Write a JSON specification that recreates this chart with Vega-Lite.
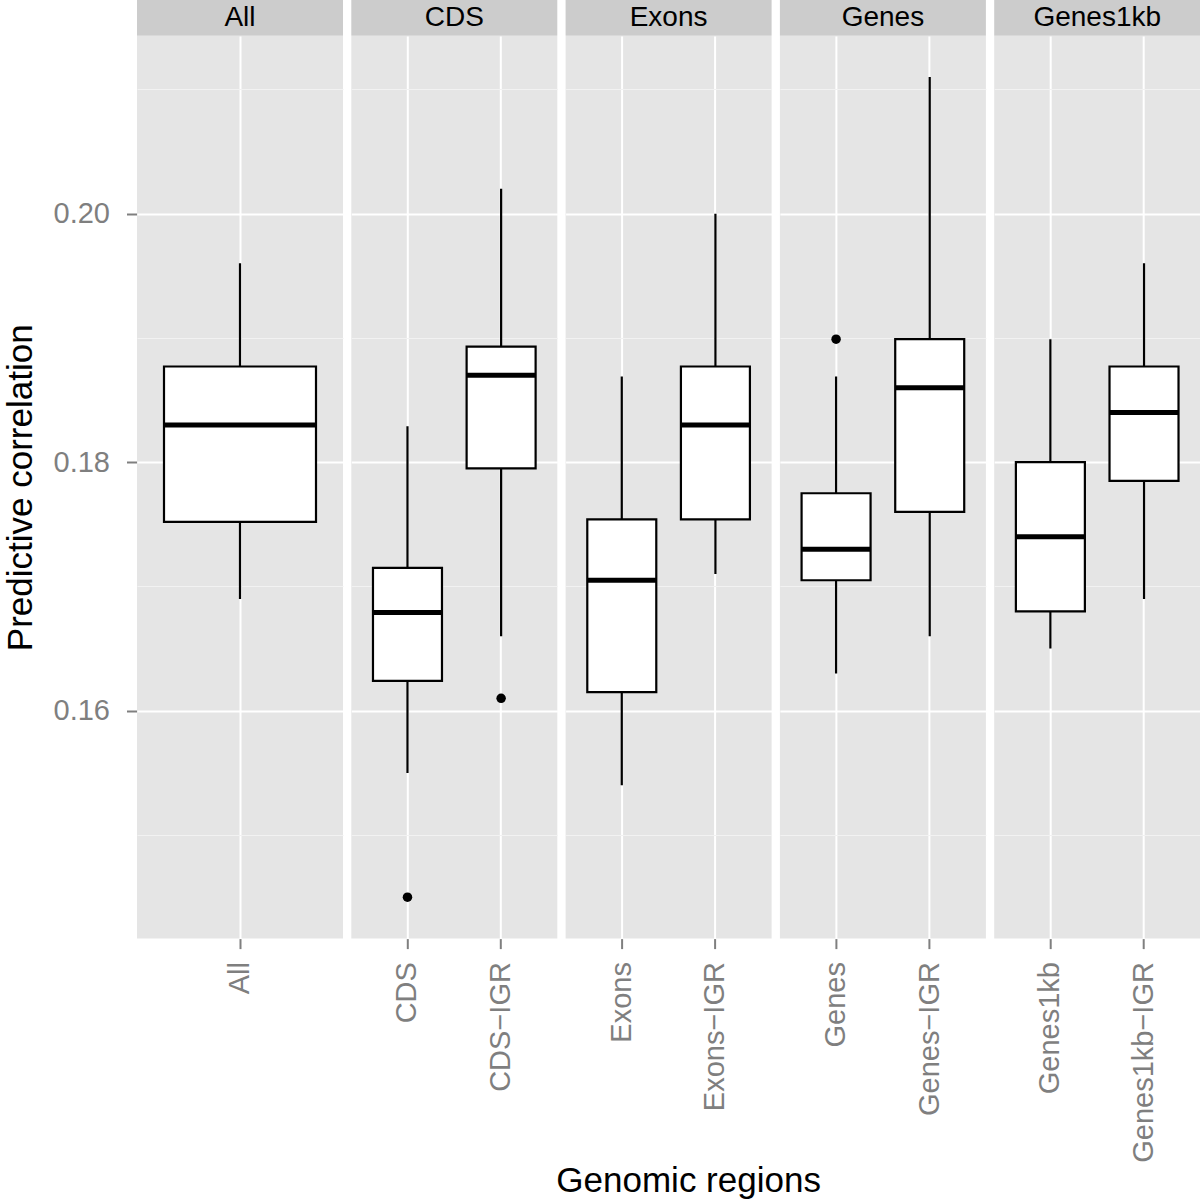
{
  "$schema": "https://vega.github.io/schema/vega-lite/v6.json",
  "padding": {"left": 3, "top": 0, "right": 0, "bottom": 0},
  "background": "white",
  "config": {"font": "Liberation Sans", "view": {"stroke": null}},
  "title": {
    "text": "Genomic regions",
    "orient": "bottom",
    "anchor": "middle",
    "frame": "bounds",
    "fontSize": 35,
    "font": "Liberation Sans",
    "fontWeight": "normal",
    "color": "black",
    "offset": 2,
    "dx": 87
  },
  "datasets": {
    "strips": [
      {"group": "All"}, {"group": "CDS"}, {"group": "Exons"}, {"group": "Genes"}, {"group": "Genes1kb"}
    ],
    "boxes": [
      {"group": "All", "region": "All", "lower": 0.1690, "q1": 0.1752, "median": 0.1830, "q3": 0.1877, "upper": 0.1960},
      {"group": "CDS", "region": "CDS", "lower": 0.1550, "q1": 0.1624, "median": 0.1679, "q3": 0.1715, "upper": 0.1829},
      {"group": "CDS", "region": "CDS−IGR", "lower": 0.1660, "q1": 0.1795, "median": 0.1870, "q3": 0.1893, "upper": 0.2020},
      {"group": "Exons", "region": "Exons", "lower": 0.1540, "q1": 0.1615, "median": 0.1705, "q3": 0.1754, "upper": 0.1869},
      {"group": "Exons", "region": "Exons−IGR", "lower": 0.1710, "q1": 0.1754, "median": 0.1830, "q3": 0.1877, "upper": 0.2000},
      {"group": "Genes", "region": "Genes", "lower": 0.1630, "q1": 0.1705, "median": 0.1730, "q3": 0.1775, "upper": 0.1869},
      {"group": "Genes", "region": "Genes−IGR", "lower": 0.1660, "q1": 0.1760, "median": 0.1860, "q3": 0.1899, "upper": 0.2110},
      {"group": "Genes1kb", "region": "Genes1kb", "lower": 0.1650, "q1": 0.1680, "median": 0.1740, "q3": 0.1800, "upper": 0.1899},
      {"group": "Genes1kb", "region": "Genes1kb−IGR", "lower": 0.1690, "q1": 0.1785, "median": 0.1840, "q3": 0.1877, "upper": 0.1960},
      {"group": "CDS", "region": "CDS", "outlier": 0.1450},
      {"group": "CDS", "region": "CDS−IGR", "outlier": 0.1610},
      {"group": "Genes", "region": "Genes", "outlier": 0.1899}
    ]
  },
  "spacing": 0,
  "vconcat": [
    {
      "data": {"name": "strips"},
      "facet": {"column": {"field": "group", "type": "nominal", "header": null}},
      "spacing": 8.3,
      "spec": {
        "width": 206,
        "height": 35.7,
        "view": {"fill": "#cccccc", "stroke": null},
        "mark": {"type": "text", "fontSize": 28, "color": "black", "baseline": "middle", "font": "Liberation Sans"},
        "encoding": {"text": {"field": "group", "type": "nominal"}}
      }
    },
    {
      "data": {"name": "boxes"},
      "facet": {
        "column": {
          "field": "group",
          "type": "nominal",
          "header": null
        }
      },
      "spacing": 8.3,
      "resolve": {"scale": {"x": "independent"}},
      "spec": {
        "width": 206,
        "height": 902.6,
        "view": {"fill": "#e5e5e5", "stroke": null},
        "encoding": {
          "x": {
            "field": "region",
            "type": "nominal",
            "scale": {"paddingInner": 0, "paddingOuter": 0.1},
            "axis": {
              "title": null,
              "labelAngle": 270,
              "labelFontSize": 29,
              "labelLimit": 0,
              "labelColor": "#7f7f7f",
              "labelPadding": 13,
              "tickSize": 10,
              "tickWidth": 2,
              "tickColor": "#7f7f7f",
              "bandPosition": 0.5,
              "grid": true,
              "gridColor": "white",
              "gridWidth": 2,
              "domain": false
            }
          }
        },
        "layer": [
          {
            "transform": [{"filter": "isValid(datum.median)"}],
            "mark": {"type": "rule", "color": "black", "strokeWidth": 2.2},
            "encoding": {
              "y": {
                "field": "lower",
                "type": "quantitative",
                "title": "Predictive correlation",
                "scale": {"domain": [0.141666, 0.214294], "nice": false, "zero": false},
                "axis": {
                  "values": [0.15, 0.16, 0.17, 0.18, 0.19, 0.2, 0.21],
                  "labelExpr": "round(datum.value*100) % 2 == 0 ? format(datum.value, '.2f') : ''",
                  "labelFontSize": 29,
                  "labelColor": "#7f7f7f",
                  "labelPadding": 17,
                  "tickSize": 10.5,
                  "tickWidth": 2,
                  "tickColor": "#7f7f7f",
                  "tickOpacity": {"condition": {"test": "round(datum.value*100) % 2 == 0", "value": 1}, "value": 0},
                  "gridColor": {"condition": {"test": "round(datum.value*100) % 2 == 0", "value": "white"}, "value": "#f2f2f2"},
                  "gridWidth": {"condition": {"test": "round(datum.value*100) % 2 == 0", "value": 2}, "value": 1.2},
                  "domain": false,
                  "titleFontSize": 35,
                  "titleColor": "black",
                  "titleFontWeight": "normal",
                  "titlePadding": 15
                }
              },
              "y2": {"field": "upper"}
            }
          },
          {
            "transform": [{"filter": "isValid(datum.median)"}],
            "mark": {"type": "bar", "fill": "white", "stroke": "black", "strokeWidth": 2.2},
            "encoding": {
              "y": {"field": "q1", "type": "quantitative", "title": "Predictive correlation"},
              "y2": {"field": "q3"},
              "size": {
                "field": "group",
                "type": "ordinal",
                "scale": {"type": "ordinal", "domain": ["All", "CDS", "Exons", "Genes", "Genes1kb"], "range": [152, 69, 69, 69, 69]},
                "legend": null
              }
            }
          },
          {
            "transform": [{"filter": "isValid(datum.median)"}],
            "mark": {"type": "tick", "color": "black", "thickness": 5, "opacity": 1},
            "encoding": {
              "y": {"field": "median", "type": "quantitative", "title": "Predictive correlation"},
              "size": {
                "field": "group",
                "type": "ordinal",
                "scale": {"type": "ordinal", "domain": ["All", "CDS", "Exons", "Genes", "Genes1kb"], "range": [152, 69, 69, 69, 69]},
                "legend": null
              }
            }
          },
          {
            "transform": [{"filter": "isValid(datum.outlier)"}],
            "mark": {"type": "point", "filled": true, "color": "black", "size": 90, "opacity": 1},
            "encoding": {
              "y": {"field": "outlier", "type": "quantitative", "title": "Predictive correlation"}
            }
          }
        ]
      }
    }
  ]
}
